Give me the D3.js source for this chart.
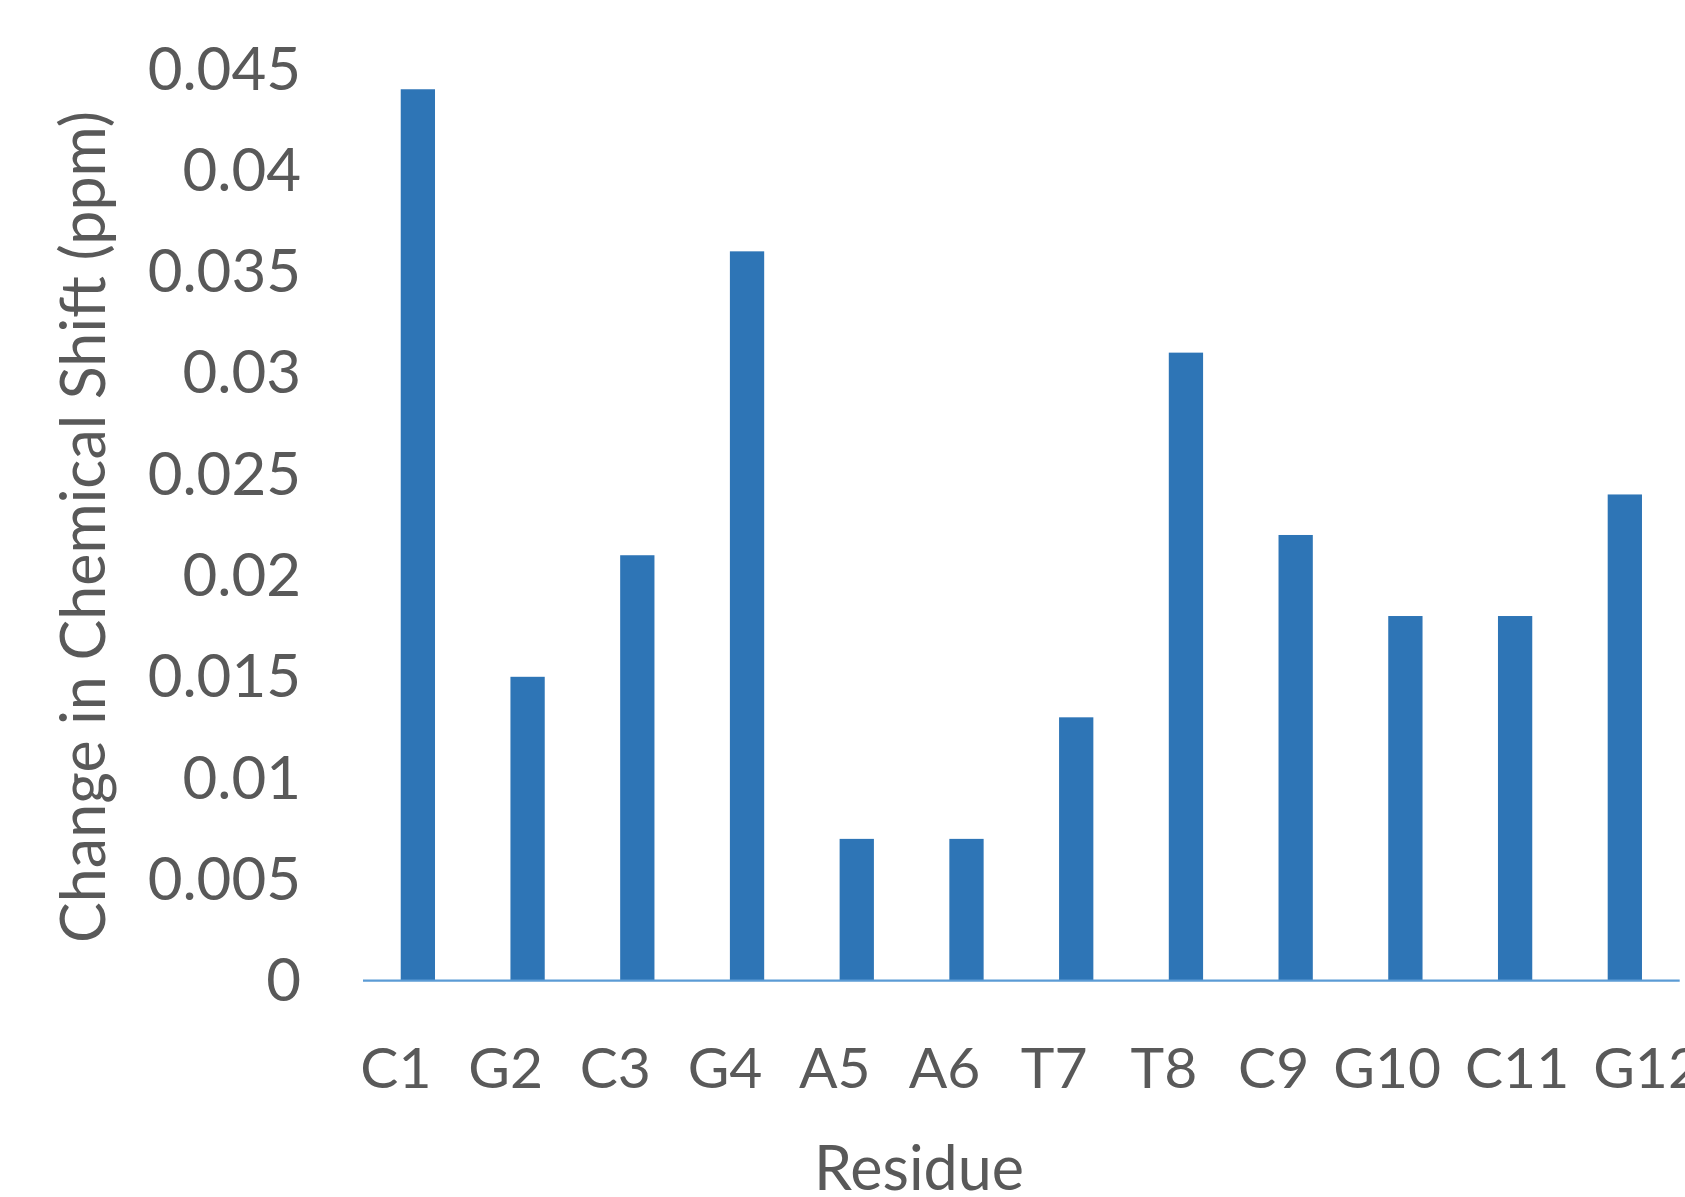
<!DOCTYPE html>
<html>
<head>
<meta charset="utf-8">
<script src="https://cdn.jsdelivr.net/npm/d3@7"></script>
<style>
  html, body { margin: 0; padding: 0; background: #ffffff; }
  svg { display: block; }
  text { font-family: Lato, "Open Sans", sans-serif; fill: #595959; }
</style>
</head>
<body>
<svg id="chart" width="1685" height="1197"></svg>
<script>
// Residues along the DNA strand
const residues = ["C1", "G2", "C3", "G4", "A5", "A6", "T7", "T8", "C9", "G10", "C11", "G12"];
// Change in chemical shift for each residue (ppm)
const shiftChange = [0.044, 0.015, 0.021, 0.036, 0.007, 0.007, 0.013, 0.031, 0.022, 0.018, 0.018, 0.024];
// Value axis ticks
const yTicks = [0, 0.005, 0.01, 0.015, 0.02, 0.025, 0.03, 0.035, 0.04, 0.045];
const yTickLabels = ["0", "0.005", "0.01", "0.015", "0.02", "0.025", "0.03", "0.035", "0.04", "0.045"];

const svg = d3.select("#chart");
const W = 1685, H = 1197;
svg.append("rect").attr("width", W).attr("height", H).attr("fill", "#ffffff");

const plot = { left: 363, right: 1679.7, top: 69, bottom: 980.7 };

const x = d3.scaleBand()
  .domain(residues)
  .range([plot.left, plot.right])
  .paddingInner(0.6875)
  .paddingOuter(0.34375);

const y = d3.scaleLinear()
  .domain([0, 0.045])
  .range([plot.bottom, plot.top]);

// Bars
svg.append("g")
  .selectAll("rect")
  .data(residues.map((r, i) => ({ r, v: shiftChange[i] })))
  .join("rect")
  .attr("x", d => x(d.r))
  .attr("width", x.bandwidth())
  .attr("y", d => y(d.v))
  .attr("height", d => y(0) - y(d.v))
  .attr("fill", "#2E75B6");

// Category axis line
svg.append("line")
  .attr("x1", plot.left).attr("x2", plot.right)
  .attr("y1", y(0)).attr("y2", y(0))
  .attr("stroke", "#5B9BD5")
  .attr("stroke-width", 2.2);

// Value axis labels
const yAxis = d3.axisLeft(y)
  .tickValues(yTicks)
  .tickFormat((d, i) => yTickLabels[i])
  .tickSize(0)
  .tickPadding(0);
const gy = svg.append("g").attr("transform", "translate(301,0)").call(yAxis);
gy.select(".domain").remove();
gy.selectAll("text")
  .attr("font-family", "Lato, 'Open Sans', sans-serif")
  .attr("font-size", 60)
  .attr("fill", "#595959")
  .attr("dy", null)
  .attr("y", 20);

// Category labels
const xAxis = d3.axisBottom(x).tickSize(0).tickPadding(0);
const gx = svg.append("g").attr("transform", `translate(0,${y(0)})`).call(xAxis);
gx.select(".domain").remove();
const xLabels = gx.selectAll("text")
  .attr("font-family", "Lato, 'Open Sans', sans-serif")
  .attr("font-size", 57)
  .attr("fill", "#595959")
  .attr("dy", null)
  .attr("x", -22)
  .attr("y", 107);

// Nudge crowded category labels to the right so neighbours keep a small gap
const minGap = 24;
let prevRight = -Infinity;
gx.selectAll(".tick").each(function (d) {
  const t = d3.select(this).select("text");
  const w = t.node().getComputedTextLength();
  const cx = x(d) + x.bandwidth() / 2 + (+t.attr("x"));
  let left = cx - w / 2;
  if (left < prevRight + minGap) {
    const shift = prevRight + minGap - left;
    t.attr("x", +t.attr("x") + shift);
    left += shift;
  }
  prevRight = left + w;
});

// Axis titles
svg.append("text")
  .attr("x", 919).attr("y", 1190)
  .attr("text-anchor", "middle")
  .attr("font-size", 61)
  .text("Residue");

svg.append("text")
  .attr("transform", "translate(105,527) rotate(-90)")
  .attr("text-anchor", "middle")
  .attr("font-size", 61)
  .text("Change in Chemical Shift (ppm)");
</script>
</body>
</html>
